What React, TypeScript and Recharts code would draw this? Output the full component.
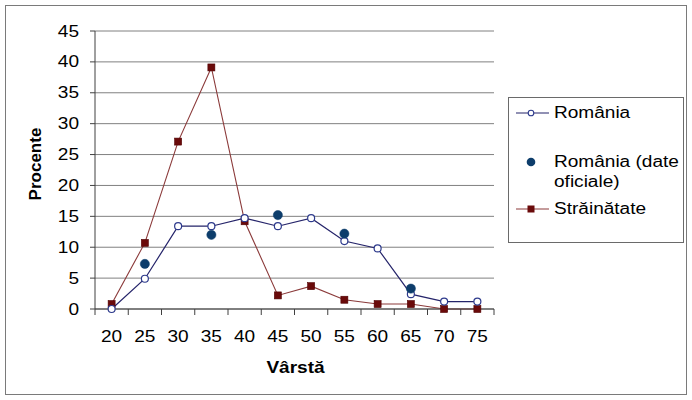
import React from 'react';
import { LineChart, Line, XAxis, YAxis, CartesianGrid } from 'recharts';

const ages = [20, 25, 30, 35, 40, 45, 50, 55, 60, 65, 70, 75];
const romania = [0, 4.9, 13.4, 13.4, 14.7, 13.4, 14.7, 11.0, 9.8, 2.4, 1.2, 1.2];
const romaniaOficial: (number | null)[] = [null, 7.3, null, 12.0, null, 15.2, null, 12.2, null, 3.3, null, null];
const strainatate = [0.8, 10.7, 27.1, 39.1, 14.2, 2.2, 3.7, 1.5, 0.8, 0.8, 0, 0];
const yTicks = [0, 5, 10, 15, 20, 25, 30, 35, 40, 45];
const seriesNames = ['România', 'România (date oficiale)', 'Străinătate'];
const xTitle = 'Vârstă';
const yTitle = 'Procente';

const data = ages.map((age, i) => ({
  age,
  romania: romania[i],
  oficial: romaniaOficial[i],
  strainatate: strainatate[i],
}));

const W = 692;
const H = 400;
const PLOT = { left: 95, right: 494, top: 31, bottom: 309 };
const STEP = (PLOT.right - PLOT.left) / ages.length;
const FONT = '"Liberation Sans", Arial, sans-serif';
const SX = 1.19;
const AXIS_COLOR = '#404040';
const GRID_COLOR = '#808080';
const C_RO_LINE = '#25246a';
const C_RO_MARK = '#2d3a8c';
const C_OF = '#0d3d6b';
const C_ST_LINE = '#8b3a3a';
const C_ST_MARK = '#6a0a0a';

const XTick = (props: any) => {
  const { x, payload } = props;
  const v = payload.value;
  const isLast = v === ages[ages.length - 1];
  return (
    <g>
      <line x1={x - STEP / 2} x2={x - STEP / 2} y1={PLOT.bottom} y2={PLOT.bottom + 6} stroke={AXIS_COLOR} />
      {isLast && <line x1={x + STEP / 2} x2={x + STEP / 2} y1={PLOT.bottom} y2={PLOT.bottom + 6} stroke={AXIS_COLOR} />}
      <text
        transform={`translate(${x},${PLOT.bottom + 33}) scale(${SX},1)`}
        textAnchor="middle"
        fontSize={16}
        fontFamily={FONT}
        fill="#000"
      >
        {v}
      </text>
    </g>
  );
};

const YTick = (props: any) => {
  const { x, y, payload } = props;
  return (
    <text
      transform={`translate(${x},${y + 5.5}) scale(${SX},1)`}
      textAnchor="end"
      fontSize={16}
      fontFamily={FONT}
      fill="#000"
    >
      {payload.value}
    </text>
  );
};

const XTitle = () => (
  <text
    transform={`translate(${(PLOT.left + PLOT.right) / 2 + 1},${373}) scale(${SX},1)`}
    textAnchor="middle"
    fontSize={16}
    fontWeight="bold"
    fontFamily={FONT}
    fill="#000"
  >
    {xTitle}
  </text>
);

const YTitle = () => (
  <text
    transform={`translate(${41},${164}) rotate(-90)`}
    textAnchor="middle"
    fontSize={17}
    fontWeight="bold"
    fontFamily={FONT}
    fill="#000"
  >
    {yTitle}
  </text>
);

const SquareDot = (props: any) => {
  const { cx, cy, index } = props;
  if (cx == null || cy == null) return <g key={`sq-${index}`} />;
  return <rect key={`sq-${index}`} x={cx - 3.5} y={cy - 3.5} width={7} height={7} fill={C_ST_MARK} stroke="#500000" strokeWidth={0.6} />;
};

const legendText: React.CSSProperties = {
  position: 'absolute',
  left: 45,
  fontFamily: FONT,
  fontSize: 16,
  lineHeight: '20px',
  color: '#000',
  transform: `scaleX(${SX})`,
  transformOrigin: 'left center',
  width: 112,
  whiteSpace: 'normal',
};

export default function App() {
  return (
    <div style={{ position: 'absolute', left: 0, top: 0, width: W, height: H, background: '#fff' }}>
      <div
        style={{
          position: 'absolute',
          left: 5,
          top: 5,
          width: 682,
          height: 390,
          border: '1px solid #7a7a7a',
          boxSizing: 'border-box',
        }}
      />
      <div style={{ position: 'absolute', left: 0, top: 0 }}>
        <LineChart
          width={W}
          height={H}
          data={data}
          margin={{ top: PLOT.top, right: W - PLOT.right, bottom: 0, left: 0 }}
        >
          <CartesianGrid vertical={false} stroke={GRID_COLOR} strokeWidth={1} />
          <XAxis
            dataKey="age"
            type="number"
            domain={[ages[0] - 2.5, ages[ages.length - 1] + 2.5]}
            ticks={ages}
            interval={0}
            height={H - PLOT.bottom}
            axisLine={{ stroke: AXIS_COLOR }}
            tickLine={false}
            tick={<XTick />}
            label={<XTitle />}
            allowDataOverflow
          />
          <YAxis
            type="number"
            domain={[0, 45]}
            ticks={yTicks}
            interval={0}
            width={PLOT.left}
            axisLine={{ stroke: AXIS_COLOR }}
            tickLine={{ stroke: AXIS_COLOR }}
            tickSize={5}
            tickMargin={11}
            tick={<YTick />}
            label={<YTitle />}
          />
          <Line
            dataKey="strainatate"
            name={seriesNames[2]}
            stroke={C_ST_LINE}
            strokeWidth={1.1}
            dot={<SquareDot />}
            isAnimationActive={false}
          />
          <Line
            dataKey="romania"
            name={seriesNames[0]}
            stroke={C_RO_LINE}
            strokeWidth={1.2}
            dot={{ r: 3.5, fill: '#fff', stroke: C_RO_MARK, strokeWidth: 1.2 }}
            isAnimationActive={false}
          />
          <Line
            dataKey="oficial"
            name={seriesNames[1]}
            stroke="none"
            strokeWidth={0}
            connectNulls={false}
            dot={{ r: 4.6, fill: C_OF, stroke: C_OF, strokeWidth: 0.5 }}
            isAnimationActive={false}
          />
        </LineChart>
      </div>
      <div
        style={{
          position: 'absolute',
          left: 508,
          top: 97,
          width: 176,
          height: 146,
          border: '1px solid #6a6a6a',
          boxSizing: 'border-box',
          background: '#fff',
        }}
      >
        <svg style={{ position: 'absolute', left: 0, top: 0 }} width={176} height={146}>
          <line x1={7} x2={40} y1={15} y2={15} stroke={C_RO_LINE} strokeWidth={1.2} />
          <circle cx={22} cy={15} r={2.8} fill="#fff" stroke={C_RO_MARK} strokeWidth={1.1} />
          <circle cx={22} cy={64} r={4.3} fill={C_OF} />
          <line x1={7} x2={40} y1={111} y2={111} stroke={C_ST_LINE} strokeWidth={1.1} />
          <rect x={18.5} y={107.5} width={7} height={7} fill={C_ST_MARK} />
        </svg>
        <div style={{ ...legendText, top: 5 }}>{seriesNames[0]}</div>
        <div style={{ ...legendText, top: 54 }}>{seriesNames[1]}</div>
        <div style={{ ...legendText, top: 101 }}>{seriesNames[2]}</div>
      </div>
    </div>
  );
}
